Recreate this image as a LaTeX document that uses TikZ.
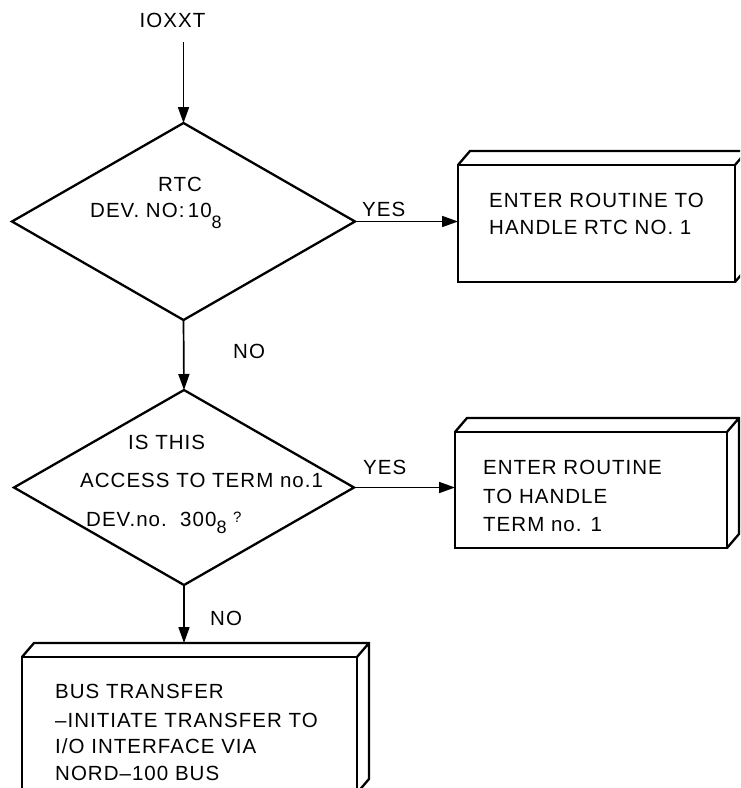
\documentclass[tikz,border=0pt]{standalone}
\usepackage{fontspec}
\setmainfont{Liberation Sans}[LetterSpace=5]
\usetikzlibrary{shapes.geometric,arrows.meta,calc}
\newcommand{\subdig}[2]{\raisebox{-#1pt}{\fontsize{18}{18}\selectfont #2}}
\newcommand{\smallq}{\raisebox{4pt}{\fontsize{15}{15}\selectfont ?}}
\newcommand{\solidbox}[1]{%
  \draw[shape line] (#1.north west) -- ++(12,-14) -- ($(#1.north east)+(12,-14)$)
    -- ($(#1.south east)+(12,-14)$) -- (#1.south east)
    (#1.north east) -- ++(12,-14);}
\begin{document}
\begin{tikzpicture}[x=1pt,y=-1pt,
  shape line/.style={draw=black,line width=2.3pt,line join=miter},
  dec/.style={shape line,diamond,inner sep=0pt,outer sep=0pt},
  proc/.style={shape line,rectangle,inner sep=0pt,outer sep=0pt},
  txt/.style={inner sep=0pt,anchor=base west,font=\fontsize{20.5}{24}\selectfont},
  conn/.style={line width=1.7pt,-{Triangle[length=16pt,width=11pt]}}
]
\useasboundingbox (0,0) rectangle (740,788);
\clip (0,0) rectangle (740,788);

% start
\node[txt,anchor=base] (io) at (172.5,27) {IOXXT};
\coordinate (ioout) at (183.5,42);

% decision 1
\node[dec,minimum width=343pt,minimum height=197pt] (d1) at (183.5,221.5) {};
\node[txt] (t1a) at (158,191) {RTC};
\node[txt] (t1b) at (90,217) {DEV. NO:\,10\subdig{11}{8}};

% box 1
\node[proc,minimum width=277pt,minimum height=117pt] (b1) at (596.5,223.5) {};
\solidbox{b1}
\node[txt] (t2a) at (489,207) {ENTER ROUTINE TO};
\node[txt] (t2b) at (489,234) {HANDLE RTC NO. 1};

% decision 2
\node[dec,minimum width=340pt,minimum height=195pt] (d2) at (184,487.5) {};
\node[txt] (t3a) at (128,449) {IS THIS};
\node[txt] (t3b) at (80,487) {ACCESS TO TERM no.1};
\node[txt] (t3c) at (86,526) {DEV.no.\ \ 300\subdig{7}{8}\ \smallq};

% box 2
\node[proc,minimum width=272pt,minimum height=116pt] (b2) at (591,490) {};
\solidbox{b2}
\node[txt] (t4a) at (483,474) {ENTER ROUTINE};
\node[txt] (t4b) at (483,503) {TO HANDLE};
\node[txt] (t4c) at (483,531) {TERM no. 1};

% box 3
\node[proc,minimum width=335pt,minimum height=136pt] (b3) at (189.5,725) {};
\solidbox{b3}
\coordinate (b3top) at ($(b3.north)+(0,-14)$);
\node[txt] (t5a) at (55,698) {BUS TRANSFER};
\node[txt] (t5b) at (55,727) {\textendash INITIATE TRANSFER TO};
\node[txt] (t5c) at (55,753) {I/O INTERFACE VIA};
\node[txt] (t5d) at (55,780) {NORD\textendash 100 BUS};

% labels
\node[txt] (yes1) at (362,216) {YES};
\node[txt] (yes2) at (363,474) {YES};
\node[txt] (no1) at (233,358) {NO};
\node[txt] (no2) at (210,625) {NO};

% connectors
\draw[conn] (ioout) -- (d1.north);
\draw[conn] (d1.east) -- (d1.east -| b1.west);
\draw[conn] (d1.south) -- (d2.north);
\draw[conn] (d2.east) -- (d2.east -| b2.west);
\draw[conn] (d2.south) -- (d2.south |- b3top);
\end{tikzpicture}
\end{document}
